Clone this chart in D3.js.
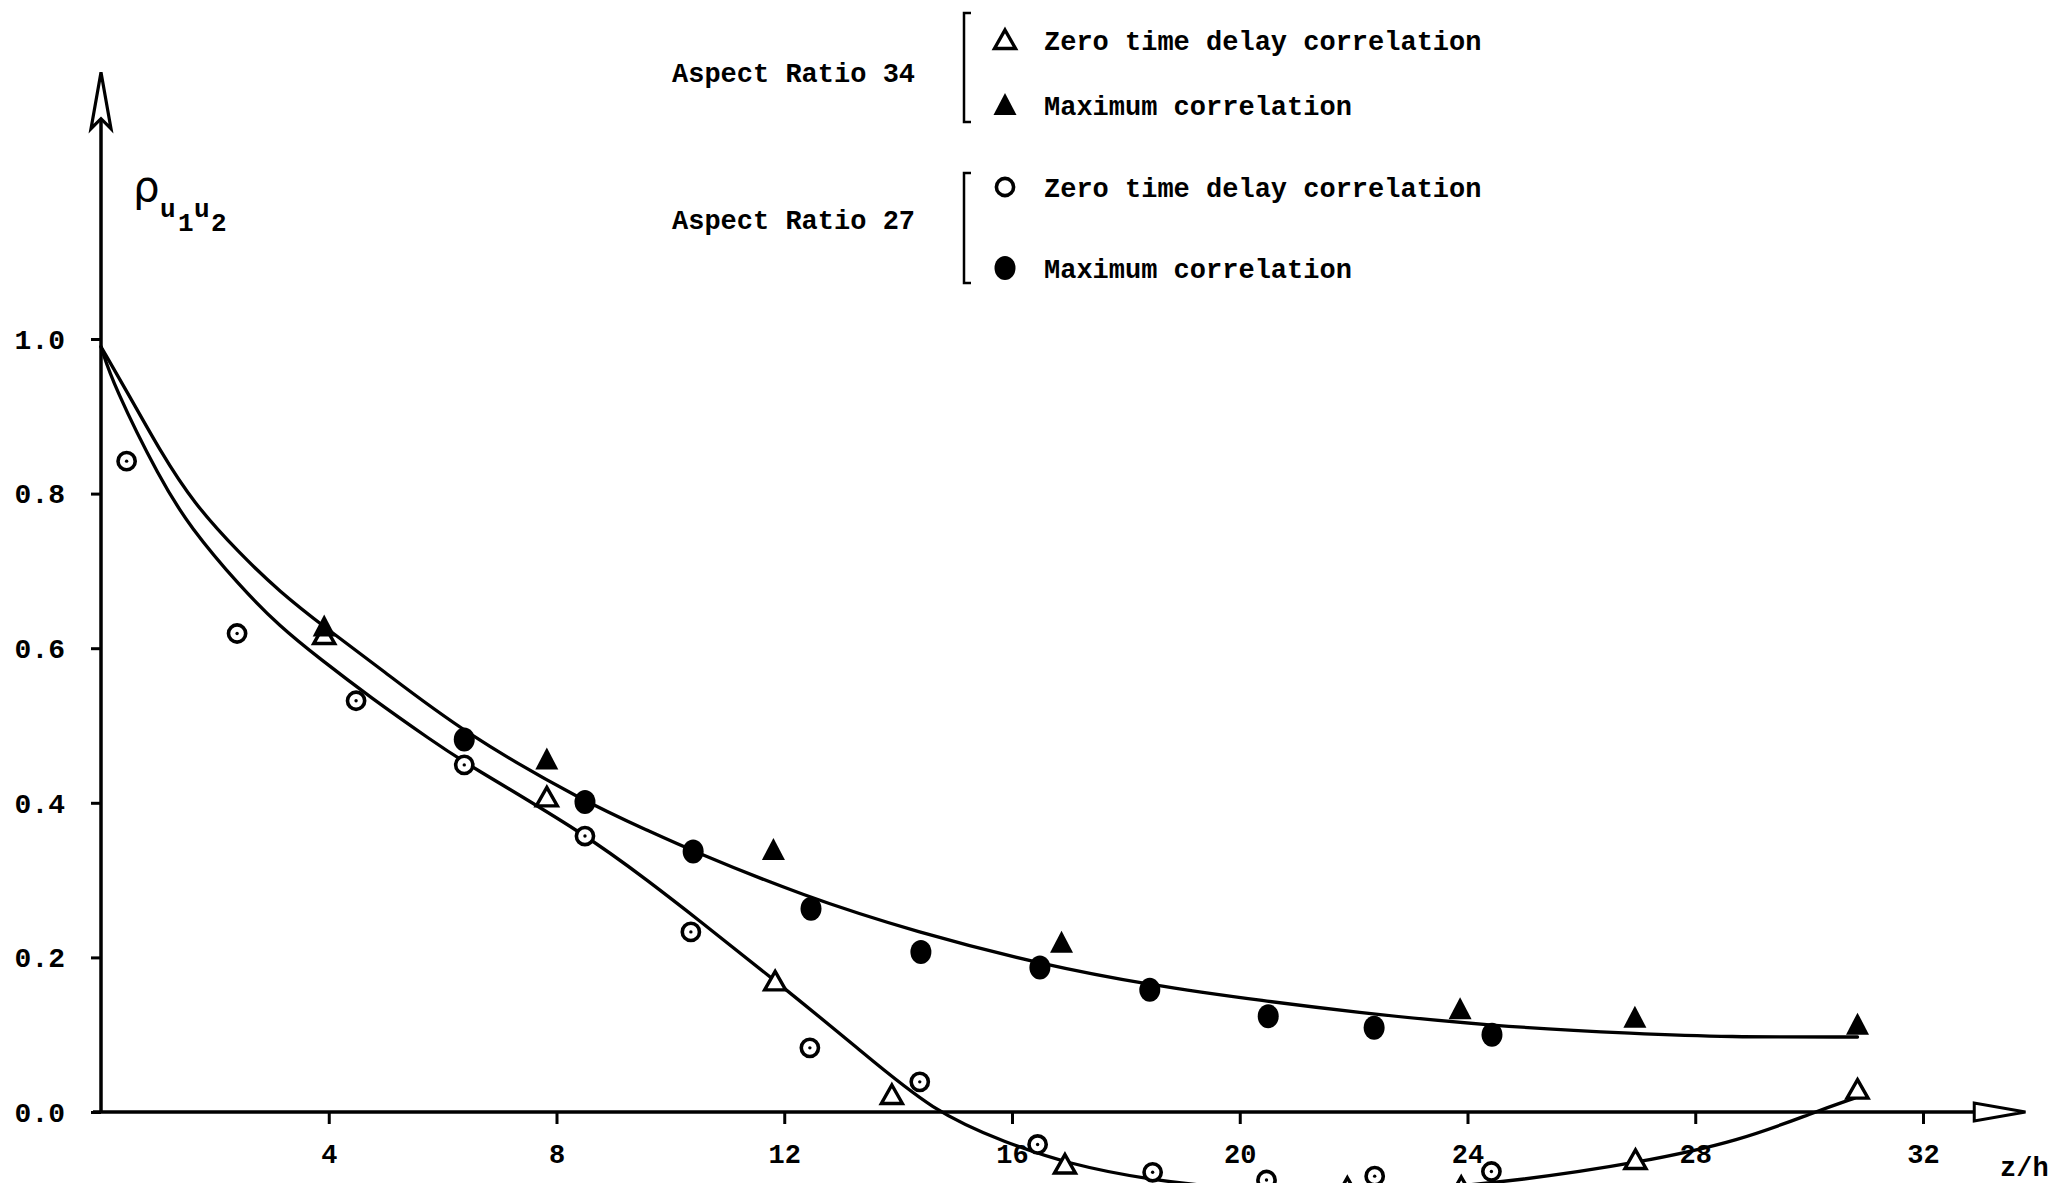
<!DOCTYPE html>
<html>
<head>
<meta charset="utf-8">
<script src="https://cdn.jsdelivr.net/npm/d3@7"></script>
<style>
  html, body { margin: 0; padding: 0; background: #fff; }
  svg { display: block; }
  .mono { font-family: "Liberation Mono", "DejaVu Sans Mono", monospace; font-weight: bold; fill: #000; }
</style>
</head>
<body>
<svg id="chart" width="2051" height="1183"></svg>
<script>
// Spanwise correlation of u versus z/h, measured points [z/h, rho]
// Aspect ratio 34 – zero time delay correlation (open triangles)
const ar34Zero = [[3.92, 0.617], [7.83, 0.407], [11.84, 0.169], [13.89, 0.022], [16.93, -0.068],
                  [21.89, -0.098], [23.89, -0.097], [26.95, -0.062], [30.85, 0.029]];
// Aspect ratio 34 – maximum correlation (filled triangles)
const ar34Max = [[3.92, 0.628], [7.83, 0.456], [11.81, 0.339], [16.87, 0.219], [23.87, 0.133],
                 [26.94, 0.122], [30.85, 0.113]];
// Aspect ratio 27 – zero time delay correlation (open circles)
const ar27Zero = [[0.45, 0.842], [2.39, 0.619], [4.48, 0.532], [6.38, 0.449], [8.50, 0.357],
                  [10.36, 0.233], [12.45, 0.083], [14.38, 0.039], [16.45, -0.042], [18.47, -0.078],
                  [20.47, -0.088], [22.37, -0.083], [24.42, -0.077]];
// Aspect ratio 27 – maximum correlation (filled circles)
const ar27Max = [[6.38, 0.482], [8.50, 0.401], [10.40, 0.337], [12.47, 0.263], [14.40, 0.207],
                 [16.49, 0.187], [18.42, 0.158], [20.50, 0.124], [22.36, 0.109], [24.43, 0.100]];

// Faired curves drawn through the data
const maxCurve = [[0, 0.99], [0.51, 0.925], [1.04, 0.855], [1.62, 0.788], [2.44, 0.722], [3.14, 0.673],
                  [3.93, 0.627], [4.90, 0.574], [6.38, 0.490], [8.50, 0.401], [9.64, 0.363],
                  [10.38, 0.338], [12.31, 0.280], [14.35, 0.232], [16.46, 0.192], [18.42, 0.164],
                  [20.50, 0.143], [21.93, 0.130], [24.41, 0.111], [27.05, 0.101], [28.5, 0.097],
                  [30.85, 0.097]];
const zeroCurve = [[0, 0.99], [0.22, 0.940], [1.04, 0.818], [1.56, 0.757], [2.44, 0.680], [3.14, 0.628],
                   [3.85, 0.586], [4.72, 0.537], [5.84, 0.479], [6.38, 0.452], [8.50, 0.360],
                   [9.68, 0.295], [10.40, 0.254], [11.84, 0.170], [13.30, 0.082], [14.62, 0.0],
                   [15.90, -0.040], [16.98, -0.067], [18.40, -0.088], [20.0, -0.100], [21.6, -0.105],
                   [23.2, -0.100], [24.88, -0.089], [27.0, -0.066], [28.8, -0.037], [30.1, 0.0],
                   [30.8, 0.018]];

const xTicks = [4, 8, 12, 16, 20, 24, 28, 32];
const yTicks = [0.0, 0.2, 0.4, 0.6, 0.8, 1.0];
const xLabel = "z/h";

// Legend groups
const legendGroups = ["Aspect Ratio 34", "Aspect Ratio 27"];
const legendEntries = [
  { group: 0, symbol: "triangleOpen",   label: "Zero time delay correlation" },
  { group: 0, symbol: "triangleFilled", label: "Maximum correlation" },
  { group: 1, symbol: "circleOpen",     label: "Zero time delay correlation" },
  { group: 1, symbol: "circleFilled",   label: "Maximum correlation" }
];

const svg = d3.select("#chart");
const x = d3.scaleLinear().domain([0, 32]).range([101, 1923]);
const y = d3.scaleLinear().domain([0, 1]).range([1112, 339]);

// Axis extents (in data units) including the open arrow heads
const xArrowBase = 32.9, xArrowTip = 33.8;
const yArrowNotch = 1.285, yArrowBase = 1.272, yArrowTip = 1.345;

const ink = "#000";

// ---- axes lines
svg.append("line")
  .attr("x1", x(0) - 8).attr("x2", x(xArrowBase))
  .attr("y1", y(0)).attr("y2", y(0))
  .attr("stroke", ink).attr("stroke-width", 3.5);
svg.append("line")
  .attr("x1", x(0)).attr("x2", x(0))
  .attr("y1", y(0)).attr("y2", y(yArrowNotch))
  .attr("stroke", ink).attr("stroke-width", 3.5);

// arrow heads
svg.append("path")
  .attr("d", `M${x(xArrowTip)},${y(0)} L${x(xArrowBase)},${y(0) - 9} L${x(xArrowBase)},${y(0) + 9} Z`)
  .attr("fill", "#fff").attr("stroke", ink).attr("stroke-width", 3).attr("stroke-linejoin", "miter");
svg.append("path")
  .attr("d", `M${x(0)},${y(yArrowTip)} L${x(0) + 10},${y(yArrowBase)} L${x(0)},${y(yArrowNotch)} L${x(0) - 10},${y(yArrowBase)} Z`)
  .attr("fill", "#fff").attr("stroke", ink).attr("stroke-width", 3.2).attr("stroke-linejoin", "miter");

// ---- ticks and tick labels
const gx = svg.append("g").attr("transform", `translate(0,${y(0)})`)
  .call(d3.axisBottom(x).tickValues(xTicks).tickSize(12).tickFormat(d3.format("d")));
gx.select(".domain").remove();
gx.selectAll(".tick line").attr("stroke", ink).attr("stroke-width", 3);
gx.selectAll(".tick text").attr("class", "mono").attr("font-size", 27)
  .attr("y", 51).attr("dy", 0).attr("fill", ink);

const gy = svg.append("g").attr("transform", `translate(${x(0)},0)`)
  .call(d3.axisLeft(y).tickValues(yTicks).tickSize(10).tickFormat(d3.format(".1f")));
gy.select(".domain").remove();
gy.selectAll(".tick line").attr("stroke", ink).attr("stroke-width", 3);
gy.selectAll(".tick text").attr("class", "mono").attr("font-size", 28)
  .attr("x", -36).attr("dy", "0.33em").attr("fill", ink);

svg.append("text").attr("class", "mono").attr("font-size", 27)
  .attr("x", 2000).attr("y", 1176).text(xLabel);

// y-axis title: rho with subscripts u1 u2
const yt = svg.append("g");
yt.append("text").attr("x", 133).attr("y", 201)
  .attr("font-family", "DejaVu Sans, sans-serif").attr("font-size", 42).attr("fill", ink).text("ρ");
yt.append("text").attr("class", "mono").attr("font-size", 26).attr("x", 160).attr("y", 217).text("u");
yt.append("text").attr("class", "mono").attr("font-size", 26).attr("x", 178).attr("y", 231).text("1");
yt.append("text").attr("class", "mono").attr("font-size", 26).attr("x", 194).attr("y", 217).text("u");
yt.append("text").attr("class", "mono").attr("font-size", 26).attr("x", 211).attr("y", 231).text("2");

// ---- faired curves
const line = d3.line().x(d => x(d[0])).y(d => y(d[1])).curve(d3.curveBasis);
[maxCurve, zeroCurve].forEach(c => {
  svg.append("path").attr("d", line(c))
    .attr("fill", "none").attr("stroke", ink).attr("stroke-width", 3.3).attr("stroke-linecap", "round");
});

// ---- marker shapes
function drawSymbol(g, kind, cx, cy) {
  if (kind === "circleOpen" || kind === "circleOpenDot") {
    g.append("circle").attr("cx", cx).attr("cy", cy).attr("r", 8.6)
      .attr("fill", "#fff").attr("stroke", ink).attr("stroke-width", 3.6);
    if (kind === "circleOpenDot") {
      g.append("circle").attr("cx", cx).attr("cy", cy).attr("r", 1.7).attr("fill", ink);
    }
  } else if (kind === "circleFilled") {
    g.append("ellipse").attr("cx", cx).attr("cy", cy).attr("rx", 10.5).attr("ry", 12).attr("fill", ink);
  } else if (kind === "triangleOpen") {
    g.append("path")
      .attr("d", `M${cx},${cy - 10} L${cx + 10.5},${cy + 8.5} L${cx - 10.5},${cy + 8.5} Z`)
      .attr("fill", "#fff").attr("stroke", ink).attr("stroke-width", 3.4).attr("stroke-linejoin", "miter");
  } else if (kind === "triangleFilled") {
    g.append("path")
      .attr("d", `M${cx},${cy - 12} L${cx + 11.5},${cy + 10} L${cx - 11.5},${cy + 10} Z`)
      .attr("fill", ink);
  }
}

const marks = svg.append("g");
ar27Zero.forEach(d => drawSymbol(marks, "circleOpenDot", x(d[0]), y(d[1])));
ar27Max.forEach(d => drawSymbol(marks, "circleFilled", x(d[0]), y(d[1])));
ar34Zero.forEach(d => drawSymbol(marks, "triangleOpen", x(d[0]), y(d[1])));
ar34Max.forEach(d => drawSymbol(marks, "triangleFilled", x(d[0]), y(d[1])));

// ---- legend
const legend = svg.append("g");
const groupTop = [13, 173], groupBottom = [122, 283], groupBaseline = [82, 229];
const entryBaseline = [50, 115, 197, 278];
const bracketX = 964, symbolX = 1005, labelX = 1044;

legendGroups.forEach((name, i) => {
  legend.append("text").attr("class", "mono").attr("font-size", 27)
    .attr("x", 672).attr("y", groupBaseline[i]).text(name);
  legend.append("path")
    .attr("d", `M${bracketX + 7},${groupTop[i]} H${bracketX} V${groupBottom[i]} H${bracketX + 7}`)
    .attr("fill", "none").attr("stroke", ink).attr("stroke-width", 2.5);
});
legendEntries.forEach((e, i) => {
  drawSymbol(legend, e.symbol, symbolX, entryBaseline[i] - 10);
  legend.append("text").attr("class", "mono").attr("font-size", 27)
    .attr("x", labelX).attr("y", entryBaseline[i]).text(e.label);
});
</script>
</body>
</html>
